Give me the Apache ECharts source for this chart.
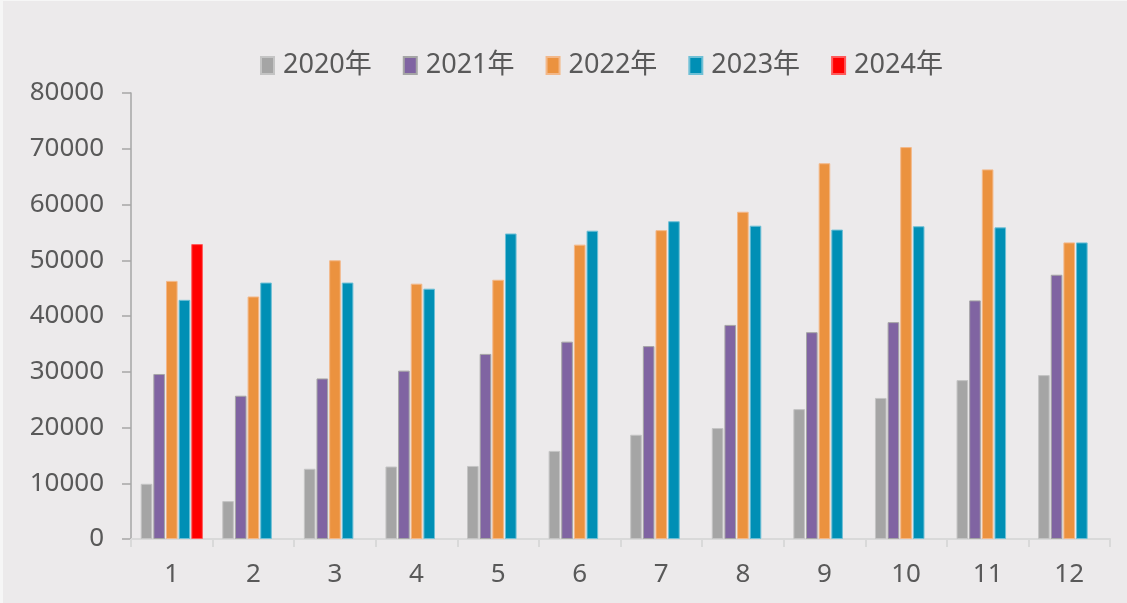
<!DOCTYPE html>
<html>
<head>
<meta charset="utf-8">
<script src="https://cdn.jsdelivr.net/npm/echarts@6/dist/echarts.min.js"></script>
<style>
  html, body { margin: 0; padding: 0; background: #f6f6f6; }
  #chart { position: absolute; left: 3px; top: 1px; width: 1124px; height: 602px; background: #eceaeb; }
</style>
</head>
<body>
<div id="chart"></div>
<script>
// 月份
var months = ['1', '2', '3', '4', '5', '6', '7', '8', '9', '10', '11', '12'];
var seriesNames = ['2020年', '2021年', '2022年', '2023年', '2024年'];
var y2020 = [9900, 6800, 12600, 13000, 13100, 15800, 18700, 19900, 23300, 25300, 28500, 29400];
var y2021 = [29600, 25700, 28800, 30200, 33200, 35400, 34600, 38400, 37100, 38900, 42800, 47400];
var y2022 = [46300, 43500, 50000, 45800, 46500, 52800, 55400, 58700, 67400, 70300, 66300, 53200];
var y2023 = [42900, 46000, 46000, 44900, 54800, 55300, 57000, 56200, 55500, 56100, 55900, 53200];
var y2024 = [52900];
var yTicks = [0, 10000, 20000, 30000, 40000, 50000, 60000, 70000, 80000];

var colors = ['#a5a5a5', '#8064a2', '#eb923f', '#008fb5', '#ff0000'];
var borders = ['#c4c4c4', '#a5a5a5', '#f3b889', '#6fc0d6', '#ff5a5a'];
var allData = [y2020, y2021, y2022, y2023, y2024];

var fontFam = '"Noto Sans", "Noto Sans CJK SC", sans-serif';

var chart = echarts.init(document.getElementById('chart'));
chart.setOption({
  backgroundColor: '#eceaeb',
  animation: false,
  color: colors,
  legend: {
    left: 252,
    top: 46,
    icon: 'rect',
    itemWidth: 13,
    itemHeight: 17,
    itemGap: 31,
    textStyle: { fontSize: 27, color: '#595959', fontFamily: fontFam, padding: [0, 0, 0, 4] },
    data: seriesNames
  },
  grid: { left: 128, right: 17, top: 92, bottom: 64, containLabel: false },
  xAxis: {
    type: 'category',
    data: months,
    axisLine: { lineStyle: { color: '#d9d9d9', width: 2 } },
    axisTick: { show: true, length: 8, lineStyle: { color: '#d9d9d9', width: 2 } },
    axisLabel: { fontSize: 26, color: '#595959', margin: 23, fontFamily: fontFam },
    splitLine: { show: false }
  },
  yAxis: {
    type: 'value',
    min: yTicks[0],
    max: yTicks[yTicks.length - 1],
    interval: 10000,
    axisLine: { show: true, lineStyle: { color: '#a6a6a6', width: 1.5 } },
    axisTick: { show: true, length: 9, lineStyle: { color: '#a6a6a6', width: 1.5 } },
    axisLabel: {
      fontSize: 26, color: '#595959', margin: 27, fontFamily: fontFam,
      formatter: function (v) { return String(v); }
    },
    splitLine: { show: false }
  },
  series: seriesNames.map(function (name, i) {
    return {
      name: name,
      type: 'bar',
      barWidth: 11.6,
      barGap: '9%',
      data: allData[i],
      itemStyle: { color: colors[i], borderColor: borders[i], borderWidth: 1 }
    };
  })
});
</script>
</body>
</html>
